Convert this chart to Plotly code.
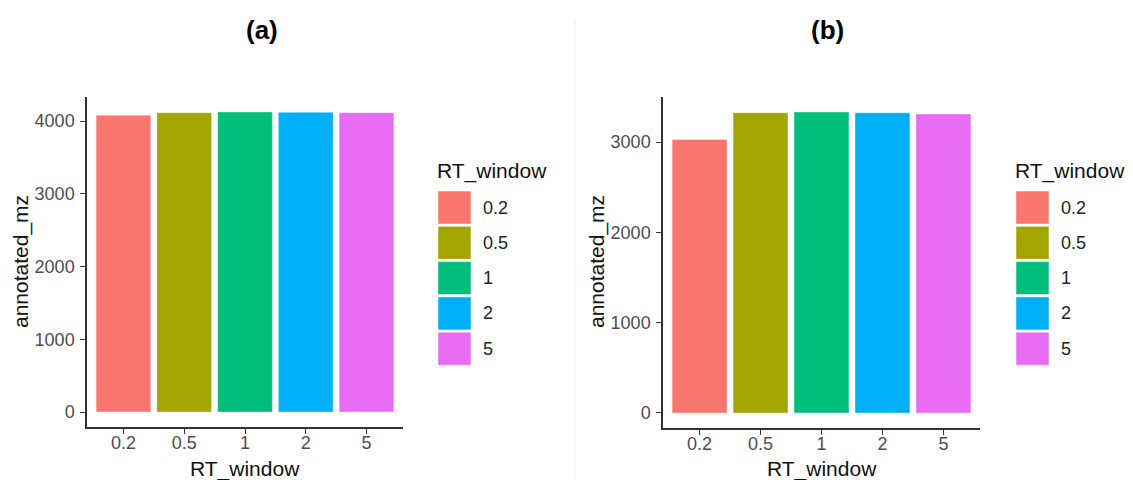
import plotly.graph_objects as go

# ---- data ----
rt_window = ["0.2", "0.5", "1", "2", "5"]
annotated_mz_a = [4080, 4115, 4124, 4120, 4115]
annotated_mz_b = [3030, 3325, 3333, 3325, 3310]
colors = ["#F8766D", "#A3A500", "#00BF7D", "#00B0F6", "#E76BF3"]
panel_titles = ["(a)", "(b)"]
x_title = "RT_window"
y_title = "annotated_mz"
legend_title = "RT_window"

W, H = 1133, 480
OFF = 8  # page body margin offset
FONT = "Liberation Sans, Arial, sans-serif"


def px_x(p):
    return (p - OFF) / W


def px_y(p):
    return 1 - (p - OFF) / H


fig = go.Figure()

panels = [
    dict(vals=annotated_mz_a, xd=(87, 403), yd=(97, 427), xa="x", ya="y",
         title_x=262, legend_x=438, label_x=483, ytitle_x=21, xtitle_x=245),
    dict(vals=annotated_mz_b, xd=(663, 980), yd=(97, 428), xa="x2", ya="y2",
         title_x=827, legend_x=1016, label_x=1061, ytitle_x=597, xtitle_x=822),
]

annotations = []
shapes = []

for i, p in enumerate(panels):
    vals = p["vals"]
    fig.add_trace(go.Bar(
        x=rt_window, y=vals, xaxis=p["xa"], yaxis=p["ya"],
        marker=dict(color=colors, line=dict(width=0.6, color="rgba(255,255,255,0.6)")),
        width=0.9, showlegend=False, hoverinfo="x+y",
    ))
    ymax = max(vals)
    ax_common = dict(
        showline=True, linecolor="#333333", linewidth=1.5,
        ticks="outside", ticklen=5, tickwidth=1.3, tickcolor="#333333",
        showgrid=False, zeroline=False,
        tickfont=dict(family=FONT, size=18, color="#4D4D4D"),
    )
    xkey = "xaxis" if i == 0 else "xaxis2"
    ykey = "yaxis" if i == 0 else "yaxis2"
    fig.update_layout(**{
        xkey: dict(
            ax_common, type="category", categoryorder="array", categoryarray=rt_window,
            range=[-0.6, len(rt_window) - 0.4],
            domain=[px_x(p["xd"][0]), px_x(p["xd"][1])],
            anchor=p["ya"],
            ticklabelstandoff=-6,
        ),
        ykey: dict(
            ax_common,
            range=[-0.05 * ymax, 1.05 * ymax],
            dtick=1000, tick0=0,
            domain=[px_y(p["yd"][1]), px_y(p["yd"][0])],
            anchor=p["xa"],
            ticklabelstandoff=2,
        ),
    })
    # axis titles
    annotations.append(dict(
        text=x_title, x=px_x(p["xtitle_x"]), y=px_y(469),
        xref="paper", yref="paper", showarrow=False, xanchor="center", yanchor="middle",
        font=dict(family=FONT, size=21, color="#111111"),
    ))
    annotations.append(dict(
        text=y_title, x=px_x(p["ytitle_x"]), y=px_y(262),
        xref="paper", yref="paper", showarrow=False, xanchor="center", yanchor="middle",
        textangle=-90,
        font=dict(family=FONT, size=21, color="#111111"),
    ))
    # panel title
    annotations.append(dict(
        text="<b>%s</b>" % panel_titles[i], x=px_x(p["title_x"]), y=px_y(30),
        xref="paper", yref="paper", showarrow=False, xanchor="center", yanchor="middle",
        font=dict(family=FONT, size=26, color="#000000"),
    ))
    # legend title
    annotations.append(dict(
        text=legend_title, x=px_x(p["legend_x"] - 3), y=px_y(171),
        xref="paper", yref="paper", showarrow=False, xanchor="left", yanchor="middle",
        font=dict(family=FONT, size=21, color="#111111"),
    ))
    # legend keys
    for k, (cat, col) in enumerate(zip(rt_window, colors)):
        top = 191 + k * 35.3
        shapes.append(dict(
            type="rect", xref="paper", yref="paper",
            x0=px_x(p["legend_x"]), x1=px_x(p["legend_x"] + 33),
            y0=px_y(top + 33), y1=px_y(top),
            fillcolor=col, line=dict(width=1, color="rgba(255,255,255,0.5)"),
        ))
        annotations.append(dict(
            text=cat, x=px_x(p["label_x"] - 2), y=px_y(top + 16.5),
            xref="paper", yref="paper", showarrow=False, xanchor="left", yanchor="middle",
            font=dict(family=FONT, size=18, color="#222222"),
        ))

# faint divider between panels
shapes.append(dict(
    type="line", xref="paper", yref="paper",
    x0=px_x(575), x1=px_x(575), y0=px_y(20), y1=0,
    line=dict(color="#EFEFEF", width=1),
))

fig.update_layout(
    width=W, height=H,
    margin=dict(l=0, r=0, t=0, b=0),
    paper_bgcolor="white", plot_bgcolor="white",
    showlegend=False,
    annotations=annotations, shapes=shapes,
    font=dict(family=FONT),
)

fig.write_html("out.html")
